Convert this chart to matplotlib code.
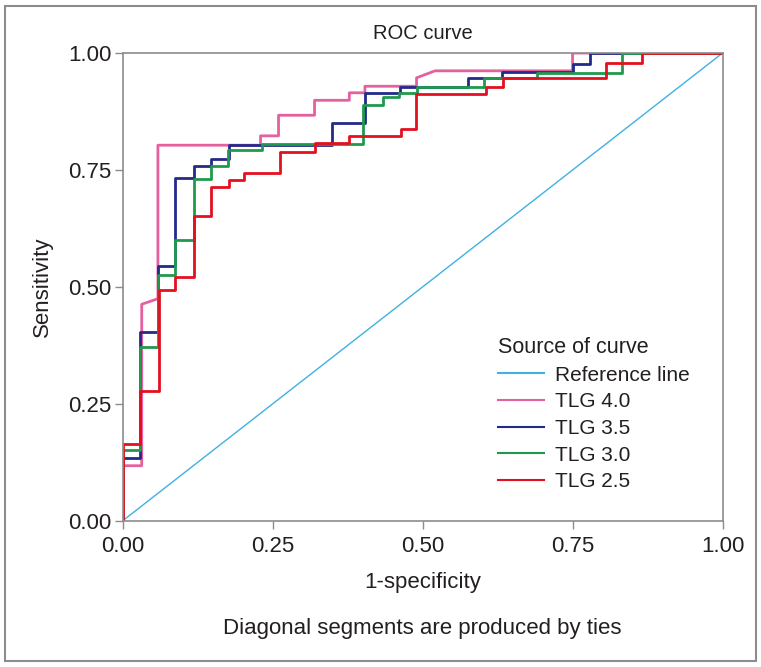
import matplotlib
matplotlib.use("Agg")
import matplotlib.pyplot as plt
from matplotlib.patches import Rectangle

plt.rcParams['font.family'] = ['Liberation Sans', 'DejaVu Sans']

# ROC points (1-specificity, sensitivity)
tlg40_fpr = [0, 0, 0.032, 0.032, 0.059, 0.059, 0.23, 0.23, 0.26, 0.26, 0.32, 0.32,
             0.378, 0.378, 0.404, 0.404, 0.49, 0.49, 0.521, 0.75, 0.75, 1.0]
tlg40_tpr = [0, 0.118, 0.118, 0.463, 0.475, 0.803, 0.803, 0.823, 0.823, 0.867, 0.867, 0.899,
             0.899, 0.915, 0.915, 0.929, 0.929, 0.947, 0.962, 0.962, 1.0, 1.0]

tlg35_fpr = [0, 0, 0.0295, 0.0295, 0.059, 0.059, 0.087, 0.087, 0.1195, 0.1195, 0.147, 0.147,
             0.177, 0.177, 0.349, 0.349, 0.404, 0.404, 0.462, 0.462, 0.576, 0.576, 0.633, 0.633,
             0.751, 0.751, 0.779, 0.779, 1.0]
tlg35_tpr = [0, 0.135, 0.135, 0.403, 0.403, 0.544, 0.544, 0.732, 0.732, 0.758, 0.758, 0.773,
             0.773, 0.803, 0.803, 0.85, 0.85, 0.915, 0.915, 0.927, 0.927, 0.947, 0.947, 0.959,
             0.959, 0.977, 0.977, 1.0, 1.0]

tlg30_fpr = [0, 0, 0.0295, 0.0295, 0.059, 0.059, 0.087, 0.087, 0.1195, 0.1195, 0.147, 0.147,
             0.175, 0.175, 0.232, 0.232, 0.40, 0.40, 0.434, 0.434, 0.46, 0.46, 0.49, 0.49,
             0.603, 0.603, 0.691, 0.691, 0.833, 0.833, 1.0]
tlg30_tpr = [0, 0.151, 0.151, 0.372, 0.372, 0.525, 0.525, 0.601, 0.601, 0.730, 0.730, 0.758,
             0.758, 0.792, 0.792, 0.806, 0.806, 0.888, 0.888, 0.906, 0.906, 0.914, 0.914, 0.927,
             0.927, 0.947, 0.947, 0.958, 0.958, 1.0, 1.0]

tlg25_fpr = [0, 0, 0.0295, 0.0295, 0.061, 0.061, 0.087, 0.087, 0.1195, 0.1195, 0.147, 0.147,
             0.177, 0.177, 0.203, 0.203, 0.262, 0.262, 0.32, 0.32, 0.378, 0.378, 0.464, 0.464,
             0.489, 0.489, 0.606, 0.606, 0.634, 0.634, 0.806, 0.806, 0.865, 0.865, 1.0]
tlg25_tpr = [0, 0.165, 0.165, 0.277, 0.277, 0.493, 0.493, 0.521, 0.521, 0.651, 0.651, 0.714,
             0.714, 0.728, 0.728, 0.744, 0.744, 0.789, 0.789, 0.808, 0.808, 0.823, 0.823, 0.838,
             0.838, 0.913, 0.913, 0.928, 0.928, 0.947, 0.947, 0.978, 0.978, 1.0, 1.0]

ref_line = [0, 1]
ticks = [0.0, 0.25, 0.5, 0.75, 1.0]
tick_labels = ['0.00', '0.25', '0.50', '0.75', '1.00']

fig = plt.figure(figsize=(7.61, 6.67), dpi=100)
ax = fig.add_axes([0.161, 0.219, 0.7885, 0.7015])

ax.plot(ref_line, ref_line, color='#3fb1e3', lw=1.0, label='Reference line')
ax.plot(tlg40_fpr, tlg40_tpr, color='#e4609f', lw=2.0, label='TLG 4.0')
ax.plot(tlg35_fpr, tlg35_tpr, color='#222a8a', lw=2.0, label='TLG 3.5')
ax.plot(tlg30_fpr, tlg30_tpr, color='#1f9a4c', lw=2.0, label='TLG 3.0')
ax.plot(tlg25_fpr, tlg25_tpr, color='#e3101f', lw=2.0, label='TLG 2.5')

ax.set_xlim(0, 1)
ax.set_ylim(0, 1)
ax.set_xticks(ticks)
ax.set_xticklabels(tick_labels)
ax.set_yticks(ticks)
ax.set_yticklabels(tick_labels)
ax.tick_params(direction='out', length=6, width=1, color='#8c8c8c',
               labelsize=16, labelcolor='#231f20', pad=5)
ax.tick_params(axis='y', pad=2)
for s in ax.spines.values():
    s.set_color('#8c8c8c')
    s.set_linewidth(1.2)

ax.set_title('ROC curve', fontsize=14.5, color='#231f20', pad=10)
ax.set_xlabel('1-specificity', fontsize=16, color='#231f20', labelpad=11)
ax.set_ylabel('Sensitivity', fontsize=16, color='#231f20', labelpad=11)

fig.text(0.555, 0.058, 'Diagonal segments are produced by ties', fontsize=16,
         color='#231f20', ha='center', va='center')

leg = ax.legend(loc='upper left', bbox_to_anchor=(0.654, 0.495), bbox_transform=fig.transFigure,
                frameon=False, fontsize=15, title='Source of curve', title_fontsize=15.5,
                alignment='left', handlelength=2.2, handletextpad=0.55, labelspacing=0.37,
                borderpad=0, borderaxespad=0)
for t in leg.get_texts():
    t.set_color('#231f20')
leg.get_title().set_color('#231f20')
for h in leg.get_lines():
    h.set_linewidth(1.5)

fig.patches.append(Rectangle((0.007, 0.009), 0.986, 0.982, transform=fig.transFigure,
                             fill=False, edgecolor='#8c8c8c', lw=1.5))

fig.savefig('out.png', dpi=100)
